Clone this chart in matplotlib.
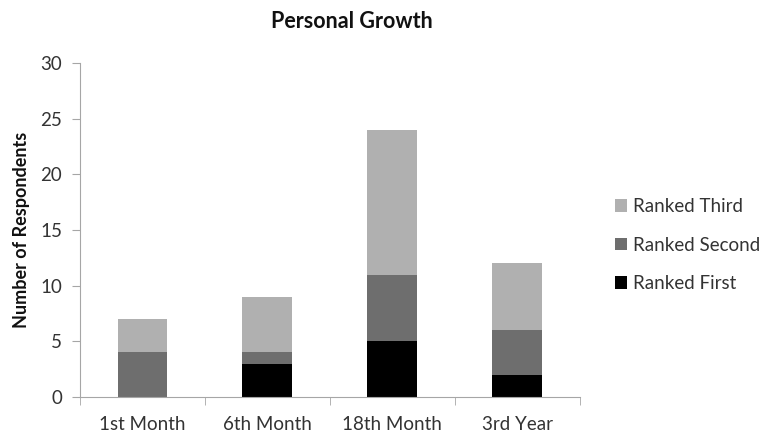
import numpy as np
import matplotlib.pyplot as plt

# Respondent counts per period, stacked by rank
periods = ["1st Month", "6th Month", "18th Month", "3rd Year"]
ranked_first = [0, 3, 5, 2]
ranked_second = [4, 1, 6, 4]
ranked_third = [3, 5, 13, 6]

plt.rcParams['font.family'] = ['Lato', 'DejaVu Sans']

fig = plt.figure(figsize=(7.62, 4.36), dpi=100)
ax = fig.add_axes([0.105, 0.0894, 0.656, 0.7661])

x = np.arange(len(periods))
first = np.array(ranked_first)
second = np.array(ranked_second)
third = np.array(ranked_third)

w = 0.4
b1 = ax.bar(x, first, w, color="#000000", label="Ranked First")
b2 = ax.bar(x, second, w, bottom=first, color="#6e6e6e", label="Ranked Second")
b3 = ax.bar(x, third, w, bottom=first + second, color="#b0b0b0", label="Ranked Third")

ax.set_xlim(-0.5, len(periods) - 0.5)
ax.set_ylim(0, 30)
ax.set_yticks(range(0, 31, 5))
ax.set_xticks(x)
ax.set_xticklabels(periods)
ax.set_xticks(np.arange(-0.5, len(periods), 1), minor=True)

axis_col = "#a6a6a6"
txt_col = "#333333"
for s in ["top", "right"]:
    ax.spines[s].set_visible(False)
for s in ["left", "bottom"]:
    ax.spines[s].set_color(axis_col)
ax.tick_params(axis="x", which="major", length=0, pad=14, labelsize=13.5, labelcolor=txt_col)
ax.tick_params(axis="x", which="minor", length=6, color=axis_col)
ax.tick_params(axis="y", length=6, color=axis_col, labelsize=13.5, labelcolor=txt_col, pad=7)

ax.set_ylabel("Number of Respondents", fontsize=13, fontweight="bold", color="#111111")
ax.yaxis.set_label_coords(-0.10, 0.5)
fig.text(352 / 762, 1 - 21 / 436, "Personal Growth", ha="center", va="center",
         fontsize=15.5, fontweight="bold", color="#111111")

ax.legend(handles=[b3, b2, b1], loc="center left", bbox_to_anchor=(1.07, 0.455),
          frameon=False, fontsize=13.5, handlelength=0.65, handleheight=0.65,
          handletextpad=0.3, labelspacing=1.15, labelcolor=txt_col,
          borderpad=0, borderaxespad=0)

fig.savefig("out.png", dpi=100)
